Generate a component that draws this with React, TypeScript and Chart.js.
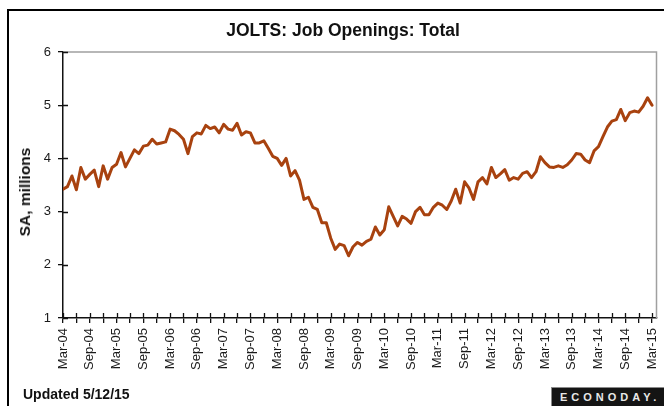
import React, { useEffect, useRef } from "react";
import { Chart, registerables } from "chart.js";

Chart.register(...registerables);

// Monthly job openings (SA, millions), Mar-04 .. Mar-15
const jobOpenings: number[] = [
  3.42, 3.47, 3.67, 3.41, 3.83, 3.61, 3.70, 3.78, 3.47, 3.86, 3.61, 3.83,
  3.89, 4.11, 3.84, 4.00, 4.16, 4.09, 4.23, 4.25, 4.36, 4.27, 4.29, 4.31,
  4.55, 4.52, 4.45, 4.36, 4.09, 4.41, 4.48, 4.46, 4.62, 4.56, 4.59, 4.48,
  4.64, 4.55, 4.53, 4.66, 4.44, 4.50, 4.48, 4.29, 4.29, 4.33, 4.19, 4.04,
  4.00, 3.87, 4.00, 3.67, 3.77, 3.59, 3.23, 3.27, 3.08, 3.04, 2.79, 2.79,
  2.50, 2.29, 2.39, 2.36, 2.17, 2.34, 2.42, 2.37, 2.44, 2.48, 2.71, 2.56,
  2.66, 3.09, 2.91, 2.73, 2.91, 2.86, 2.78, 3.00, 3.08, 2.94, 2.94, 3.08,
  3.16, 3.12, 3.04, 3.20, 3.42, 3.16, 3.56, 3.44, 3.23, 3.56, 3.64, 3.52,
  3.83, 3.64, 3.71, 3.79, 3.59, 3.64, 3.61, 3.72, 3.75, 3.64, 3.75, 4.03,
  3.92, 3.84, 3.83, 3.86, 3.83, 3.88, 3.97, 4.09, 4.08, 3.97, 3.92, 4.14,
  4.22, 4.41, 4.59, 4.70, 4.73, 4.92, 4.71, 4.86, 4.89, 4.87, 4.98, 5.14,
  5.00,
];

// Labels every 6 months, starting at the first month
const tickLabels: string[] = [
  "Mar-04", "Sep-04", "Mar-05", "Sep-05", "Mar-06", "Sep-06", "Mar-07", "Sep-07",
  "Mar-08", "Sep-08", "Mar-09", "Sep-09", "Mar-10", "Sep-10", "Mar-11", "Sep-11",
  "Mar-12", "Sep-12", "Mar-13", "Sep-13", "Mar-14", "Sep-14", "Mar-15",
];

const yTicks: number[] = [1, 2, 3, 4, 5, 6];

const FONT = '"Liberation Sans", Arial, sans-serif';

const axisDecor = {
  id: "axisDecor",
  beforeDatasetsDraw(chart: any) {
    const { ctx, chartArea, scales } = chart;
    const { left, right, top, bottom } = chartArea;
    ctx.save();
    ctx.strokeStyle = "#a0a0a0";
    ctx.lineWidth = 1.5;
    ctx.beginPath();
    ctx.moveTo(left, top);
    ctx.lineTo(right, top);
    ctx.lineTo(right, bottom);
    ctx.stroke();
    ctx.strokeStyle = "#111";
    ctx.lineWidth = 1.3;
    ctx.beginPath();
    scales.x.ticks.forEach((t: any) => {
      const px = Math.round(scales.x.getPixelForValue(t.value)) + 0.5;
      ctx.moveTo(px, bottom);
      ctx.lineTo(px, bottom - 5);
    });
    scales.y.ticks.forEach((t: any) => {
      const py = Math.round(scales.y.getPixelForValue(t.value)) + 0.5;
      ctx.moveTo(left, py);
      ctx.lineTo(left + 5, py);
    });
    ctx.stroke();
    ctx.restore();
  },
};

export default function App() {
  const canvasRef = useRef<HTMLCanvasElement | null>(null);

  useEffect(() => {
    if (!canvasRef.current) return;
    const chart = new Chart(canvasRef.current, {
      type: "line",
      data: {
        datasets: [
          {
            data: jobOpenings.map((v, i) => ({ x: i, y: v })),
            borderColor: "#a8420f",
            borderWidth: 3,
            pointRadius: 0,
            tension: 0,
            borderJoinStyle: "round",
            borderCapStyle: "round",
            fill: false,
          },
        ],
      },
      options: {
        responsive: false,
        animation: false,
        layout: { padding: { left: 0, top: 52, right: 7.5, bottom: 0 } },
        plugins: {
          legend: { display: false },
          tooltip: { enabled: false },
          title: { display: false },
        },
        scales: {
          x: {
            type: "linear",
            min: 0,
            max: tickLabels.length * 6 - 5,
            border: { display: true, color: "#111", width: 1.5 },
            grid: {
              drawOnChartArea: false,
              drawTicks: true,
              tickLength: 5,
              color: "#111",
              lineWidth: 1.3,
            },
            ticks: {
              stepSize: 3,
              autoSkip: false,
              includeBounds: false,
              maxRotation: 90,
              minRotation: 90,
              padding: 5,
              color: "#1a1a1a",
              font: { family: FONT, size: 13 },
              callback: (value: any) => {
                const v = Number(value);
                return v % 6 === 0 ? tickLabels[v / 6] ?? "" : "";
              },
            },
            afterFit: (scale: any) => {
              scale.height = 88;
              scale.paddingLeft = 0;
              scale.paddingRight = 0;
            },
          },
          y: {
            min: yTicks[0],
            max: yTicks[yTicks.length - 1],
            border: { display: true, color: "#111", width: 1.5 },
            grid: {
              drawOnChartArea: false,
              drawTicks: true,
              tickLength: 5,
              color: "#111",
              lineWidth: 1.3,
            },
            ticks: {
              stepSize: 1,
              padding: 7,
              color: "#1a1a1a",
              font: { family: FONT, size: 13 },
            },
            afterFit: (scale: any) => {
              scale.width = 63;
              scale.paddingTop = 0;
              scale.paddingBottom = 0;
            },
          },
        },
      },
      plugins: [axisDecor],
    });
    return () => chart.destroy();
  }, []);

  return (
    <div
      style={{
        position: "fixed",
        left: 0,
        top: 0,
        width: 664,
        height: 406,
        overflow: "hidden",
        background: "#fff",
        fontFamily: FONT,
      }}
    >
      <div
        style={{
          position: "absolute",
          left: 7,
          top: 9,
          width: 700,
          height: 450,
          border: "2px solid #000",
        }}
      />
      <canvas
        ref={canvasRef}
        width={664}
        height={406}
        style={{ position: "absolute", left: 0, top: 0 }}
      />
      <div
        style={{
          position: "absolute",
          left: 343,
          top: 20,
          transform: "translateX(-50%)",
          whiteSpace: "nowrap",
          fontWeight: "bold",
          fontSize: 17.5,
          lineHeight: "20px",
          color: "#111",
        }}
      >
        JOLTS: Job Openings: Total
      </div>
      <div
        style={{
          position: "absolute",
          left: 25,
          top: 192,
          transform: "translate(-50%, -50%) rotate(-90deg)",
          whiteSpace: "nowrap",
          fontWeight: "bold",
          fontSize: 15.5,
          lineHeight: "18px",
          color: "#111",
        }}
      >
        SA, millions
      </div>
      <div
        style={{
          position: "absolute",
          left: 23,
          top: 386,
          whiteSpace: "nowrap",
          fontWeight: "bold",
          fontSize: 14,
          lineHeight: "16px",
          color: "#111",
        }}
      >
        Updated 5/12/15
      </div>
      <div
        style={{
          position: "absolute",
          left: 551,
          top: 387,
          width: 130,
          height: 24,
          background: "#141414",
          border: "1px solid #8a8a8a",
          color: "#e8e8e8",
          fontWeight: "bold",
          fontSize: 11,
          letterSpacing: 4,
          lineHeight: "18px",
          paddingLeft: 8,
          boxSizing: "border-box",
          whiteSpace: "nowrap",
        }}
      >
        ECONODAY.
      </div>
    </div>
  );
}
